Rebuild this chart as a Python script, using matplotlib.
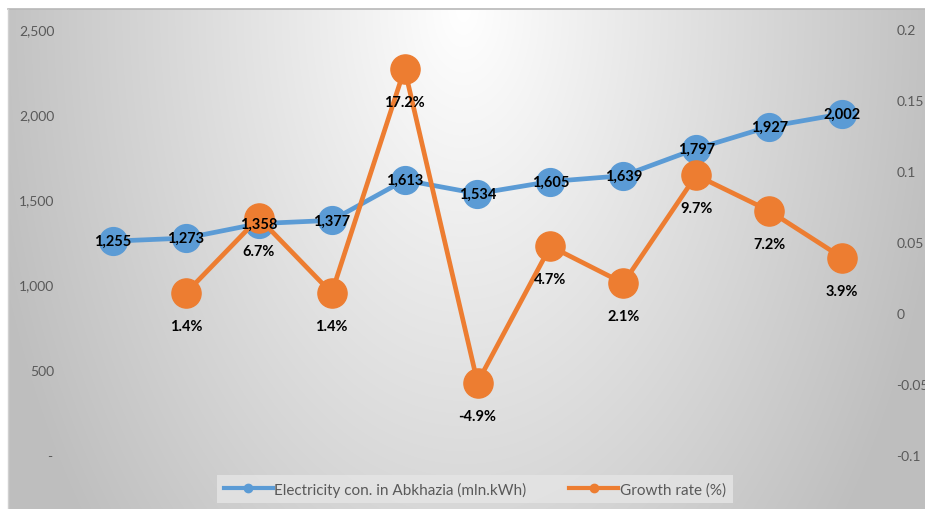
import numpy as np
import matplotlib
matplotlib.use("Agg")
import matplotlib.pyplot as plt
from matplotlib.lines import Line2D

plt.rcParams['font.family'] = ['Lato', 'DejaVu Sans']

years = list(range(11))
consumption = [1255, 1273, 1358, 1377, 1613, 1534, 1605, 1639, 1797, 1927, 2002]
growth = [None, 0.014, 0.067, 0.014, 0.172, -0.049, 0.047, 0.021, 0.097, 0.072, 0.039]
growth_labels = ["", "1.4%", "6.7%", "1.4%", "17.2%", "-4.9%", "4.7%", "2.1%", "9.7%", "7.2%", "3.9%"]
left_ticks = [0, 500, 1000, 1500, 2000, 2500]
left_labels = ["-", "500", "1,000", "1,500", "2,000", "2,500"]
right_ticks = [-0.1, -0.05, 0, 0.05, 0.1, 0.15, 0.2]
right_labels = ["-0.1", "-0.05", "0", "0.05", "0.1", "0.15", "0.2"]

BLUE = "#5B9BD5"
ORANGE = "#ED7D31"
W, H = 925, 510

fig = plt.figure(figsize=(W / 100, H / 100), dpi=100)
fig.patch.set_facecolor("white")

# background radial gradient (chart area)
bg = fig.add_axes([8 / W, 0, 1 - 8 / W, 1 - 10 / H], zorder=-10)
bw, bh = W - 8, H - 10
yy, xx = np.mgrid[0:bh, 0:bw]
dx = (xx - 455) / 455.0
dy = yy / bh
r = np.sqrt(dx ** 2 + (dy * 0.66) ** 2)
v = np.clip(255 - 60 * r, 190, 255) / 255.0
img = np.dstack([v, v, v])
bg.imshow(img, aspect="auto", interpolation="bilinear")
bg.set_axis_off()
fig.add_artist(Line2D([8 / W, 1], [1 - 10 / H, 1 - 10 / H], transform=fig.transFigure,
                      color="#b8b8b8", lw=1.2))
fig.add_artist(Line2D([8 / W, 8 / W], [0, 1 - 10 / H], transform=fig.transFigure,
                      color="#d0d0d0", lw=1.0))

left = 76.5 / W
right = 878.5 / W
top = 1 - 30 / H
bottom = 1 - 456 / H
ax = fig.add_axes([left, bottom, right - left, top - bottom])
ax.set_facecolor("none")
ax2 = ax.twinx()
ax2.set_facecolor("none")

ax.plot(years, consumption, color=BLUE, lw=3.4, marker="o", ms=20,
        markeredgecolor=BLUE, solid_capstyle="round", label="Electricity con. in Abkhazia (mln.kWh)")
gx = [x for x, g in zip(years, growth) if g is not None]
gy = [g for g in growth if g is not None]
ax2.plot(gx, gy, color=ORANGE, lw=3.4, marker="o", ms=21,
         markeredgecolor=ORANGE, label="Growth rate (%)")

ax.set_xlim(-0.5, 10.5)
ax.set_ylim(0, 2500)
ax2.set_ylim(-0.1, 0.2)
ax.set_xticks([])
ax.set_yticks(left_ticks)
ax.set_yticklabels(left_labels)
ax2.set_yticks(right_ticks)
ax2.set_yticklabels(right_labels)
for a in (ax, ax2):
    for s in a.spines.values():
        s.set_visible(False)
    a.tick_params(length=0, labelsize=10, labelcolor="#595959")
ax.tick_params(axis="y", pad=16)
ax2.tick_params(axis="y", pad=13)
# shift "-" label like accounting format
for t in ax.get_yticklabels():
    if t.get_text() == "-":
        t.set_x(-0.003)

for x, c in zip(years, consumption):
    ax2.annotate(f"{c:,}", xy=(x, c), xycoords=ax.transData, ha="center", va="center",
                 fontsize=10.5, fontweight="bold", color="black", zorder=10)
for x, g, lab in zip(years, growth, growth_labels):
    if g is None:
        continue
    ax2.annotate(lab, xy=(x, g), xytext=(0, -33), textcoords="offset pixels",
                 ha="center", va="center", fontsize=10.5, fontweight="bold", color="black", zorder=10)

h1, l1 = ax.get_legend_handles_labels()
h2, l2 = ax2.get_legend_handles_labels()
handles = [Line2D([], [], color=BLUE, lw=3, marker="o", ms=6),
           Line2D([], [], color=ORANGE, lw=3, marker="o", ms=6)]
leg = fig.legend(handles, l1 + l2, loc="center", bbox_to_anchor=(475 / W, 1 - 490 / H),
                 ncol=2, frameon=True, fontsize=11, handlelength=3.2, handletextpad=0.1,
                 columnspacing=2.8, borderpad=0.45)
fr = leg.get_frame()
fr.set_facecolor("#e4e4e4")
fr.set_edgecolor("none")
fr.set_alpha(0.85)
fr.set_boxstyle("square", pad=0)
for t in leg.get_texts():
    t.set_color("#595959")

fig.savefig("out.png", dpi=100)
